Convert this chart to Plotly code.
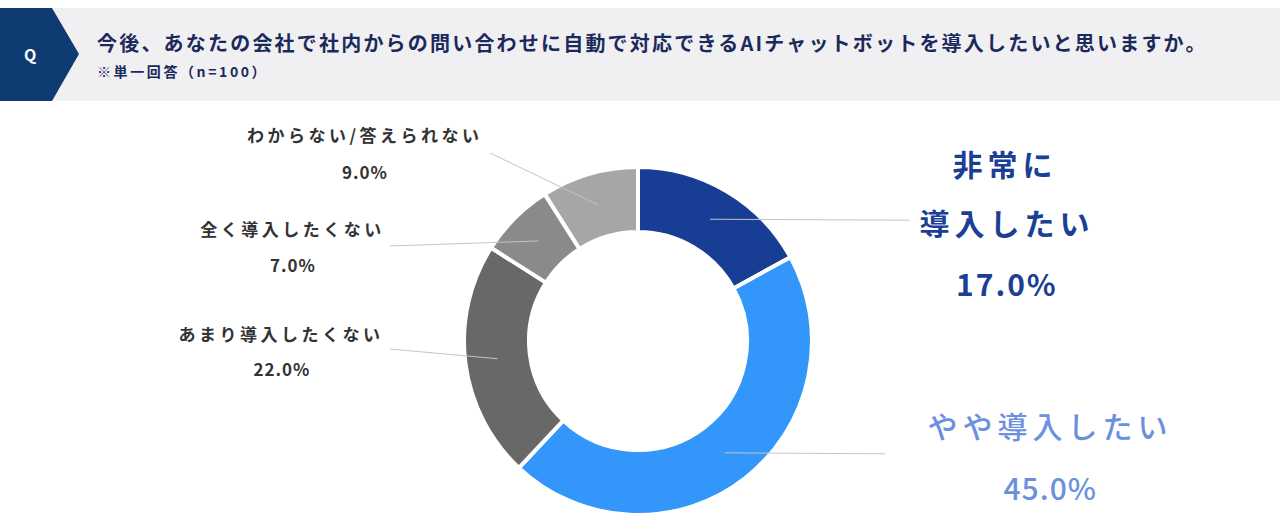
import math
import json
import plotly.graph_objects as go

# ---- data ----
categories = ["非常に導入したい", "やや導入したい", "あまり導入したくない", "全く導入したくない", "わからない/答えられない"]
values = [17.0, 45.0, 22.0, 7.0, 9.0]
colors = ["#173e94", "#3396fa", "#686868", "#8a8a8a", "#a6a6a6"]
title_text = "今後、あなたの会社で社内からの問い合わせに自動で対応できるAIチャットボットを導入したいと思いますか。"
subtitle_text = "※単一回答（n=100）"

W, H = 1280, 527
FONT = "Noto Sans CJK JP"


def fx(x):
    return x / W


def fy(y):
    return 1 - y / H


# donut geometry (pixels)
CX, CY, R_OUT, R_IN = 638, 341, 174, 109
HOLE = R_IN / R_OUT

fig = go.Figure()
fig.add_trace(go.Pie(
    labels=categories,
    values=values,
    sort=False,
    direction="clockwise",
    rotation=0,
    hole=HOLE,
    marker=dict(colors=colors, line=dict(color="white", width=4)),
    textinfo="none",
    hoverinfo="label+percent",
    showlegend=False,
    domain=dict(x=[fx(CX - R_OUT), fx(CX + R_OUT)], y=[fy(CY + R_OUT), fy(CY - R_OUT)]),
))

shapes = []
# header band
shapes.append(dict(type="rect", xref="paper", yref="paper", x0=0, x1=1, y0=fy(101), y1=fy(8),
                   fillcolor="#f0f0f2", line=dict(width=0), layer="below"))
# Q pentagon
pts = [(0, 8), (52, 8), (79, 54), (52, 101), (0, 101)]
path = "M " + " L ".join(f"{fx(x)},{fy(y)}" for x, y in pts) + " Z"
shapes.append(dict(type="path", xref="paper", yref="paper", path=path,
                   fillcolor="#0f3b73", line=dict(width=0)))

# leader line anchors computed from slice mid-angles
total = sum(values)
cum = 0
anchors = []
r_mid = (R_OUT + R_IN) / 2
for v in values:
    mid = (cum + v / 2) / total * 2 * math.pi
    cum += v
    anchors.append((CX + r_mid * math.sin(mid), CY - r_mid * math.cos(mid)))

line_starts = [(910, None), (885, None), (390, 349), (390, 246), (490, 153)]
for (ax, ay), (sx, sy) in zip(anchors, line_starts):
    if sy is None:
        sy = ay + 1
    shapes.append(dict(type="line", xref="paper", yref="paper",
                       x0=fx(ax), y0=fy(ay), x1=fx(sx), y1=fy(sy),
                       line=dict(color="#c4c4c4", width=1)))

annotations = []
spacing = []


def ann(text, x, y, size, color, weight=700, ls=0, xanchor="center", align="center"):
    annotations.append(dict(text=text, x=fx(x), y=fy(y), xref="paper", yref="paper",
                            xanchor=xanchor, yanchor="middle", showarrow=False, align=align,
                            font=dict(family=FONT, size=size, color=color, weight=weight)))
    spacing.append(ls)


ann("Q", 30, 54, 16, "#ffffff")
ann(title_text, 95, 43, 20, "#1b2a5a", ls=2.2, xanchor="left", align="left")
ann(subtitle_text, 95, 71, 14, "#1b2a5a", ls=2.6, xanchor="left", align="left")

pct = [f"{v:.1f}%" for v in values]
# right labels
ann(categories[0][:3], 1005, 163, 30, "#1a3f95", ls=5)
ann(categories[0][3:], 1007, 222, 30, "#1a3f95", ls=5)
ann(pct[0], 1007, 283, 30, "#1a3f95", ls=2)
ann(categories[1], 1050, 425, 30, "#6a90de", weight=500, ls=5)
ann(pct[1], 1050, 487, 30, "#6a90de", weight=500, ls=1)
# left labels
ann(categories[4], 365, 135, 17, "#333333", ls=3.5)
ann(pct[4], 365, 171, 17, "#333333", ls=1)
ann(categories[3], 292, 228, 17, "#333333", ls=3.5)
ann(pct[3], 293, 264, 17, "#333333", ls=1)
ann(categories[2], 281, 333, 17, "#333333", ls=3.5)
ann(pct[2], 282, 368, 17, "#333333", ls=1)

fig.update_layout(
    width=W, height=H,
    margin=dict(l=0, r=0, t=0, b=0),
    paper_bgcolor="white", plot_bgcolor="white",
    shapes=shapes, annotations=annotations,
    font=dict(family=FONT),
)

post = """
document.body.style.margin='0';
var gd=document.getElementById('{plot_id}');
var ls=%s;
function applyLS(){
  gd.querySelectorAll('g.annotation').forEach(function(g){
    var i=+g.getAttribute('data-index');
    var t=g.querySelector('text.annotation-text');
    if(t && ls[i]){ t.style.letterSpacing=ls[i]+'px'; }
  });
}
applyLS();
gd.on('plotly_afterplot', applyLS);
""" % json.dumps(spacing)

fig.write_html("out.html", post_script=post, config={"displayModeBar": False})
